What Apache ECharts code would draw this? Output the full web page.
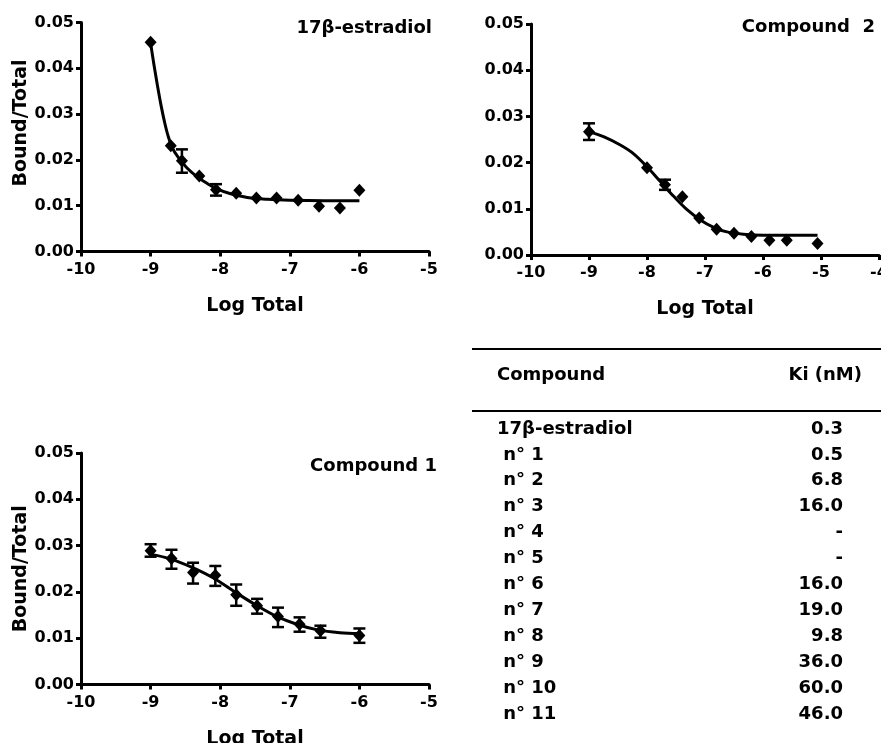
<!DOCTYPE html>
<html>
<head>
<meta charset="utf-8">
<script src="https://cdn.jsdelivr.net/npm/echarts@6/dist/echarts.min.js"></script>
<style>
html,body{margin:0;padding:0;background:#fff;}
#chart{width:881px;height:743px;}
</style>
</head>
<body>
<div id="chart"></div>
<script>
// ---------- Data ----------
// Panel 1: 17β-estradiol
const p1Title = '17β-estradiol';
const p1X = [-9.0, -8.71, -8.55, -8.30, -8.06, -7.77, -7.48, -7.19, -6.88, -6.58, -6.28, -6.0];
const p1Y = [0.0457, 0.0231, 0.0198, 0.0165, 0.0135, 0.0127, 0.0117, 0.0117, 0.0112, 0.0099, 0.0095, 0.0134];
const p1ErrX = [-8.55, -8.06];
const p1ErrLo = [0.0172, 0.0122];
const p1ErrHi = [0.0223, 0.0147];
const p1FitX = [-9.0, -8.95, -8.90, -8.85, -8.80, -8.75, -8.69, -8.60, -8.48, -8.33, -8.18, -8.04, -7.85, -7.61, -7.32, -7.0, -6.5, -6.0];
const p1FitY = [0.0455, 0.0406, 0.0361, 0.0319, 0.0283, 0.0253, 0.0227, 0.0205, 0.0183, 0.0163, 0.0148, 0.0136, 0.0126, 0.0118, 0.0114, 0.0112, 0.0111, 0.0111];

// Panel 2: Compound 2
const p2Title = 'Compound  2';
const p2X = [-9.0, -8.0, -7.69, -7.39, -7.10, -6.80, -6.50, -6.20, -5.89, -5.59, -5.06];
const p2Y = [0.0267, 0.0189, 0.0152, 0.0126, 0.0080, 0.0056, 0.0047, 0.0040, 0.0032, 0.0032, 0.0025];
const p2ErrX = [-9.0, -7.69];
const p2ErrLo = [0.0249, 0.0141];
const p2ErrHi = [0.0285, 0.0163];
const p2FitX = [-9.0, -8.75, -8.46, -8.23, -8.0, -7.77, -7.54, -7.31, -7.08, -6.85, -6.62, -6.34, -5.99, -5.65, -5.06];
const p2FitY = [0.0267, 0.0256, 0.0238, 0.0219, 0.0191, 0.0159, 0.0127, 0.0098, 0.0076, 0.0060, 0.0050, 0.0045, 0.0043, 0.0043, 0.0043];

// Panel 3: Compound 1
const p3Title = 'Compound 1';
const p3X = [-9.0, -8.70, -8.39, -8.07, -7.77, -7.47, -7.17, -6.86, -6.56, -6.0];
const p3Y = [0.0289, 0.0272, 0.0242, 0.0236, 0.0194, 0.0170, 0.0147, 0.0130, 0.0116, 0.0106];
const p3ErrLo = [0.0276, 0.0250, 0.0218, 0.0213, 0.0170, 0.0153, 0.0124, 0.0114, 0.0101, 0.0090];
const p3ErrHi = [0.0303, 0.0291, 0.0263, 0.0256, 0.0216, 0.0185, 0.0166, 0.0145, 0.0127, 0.0121];
const p3FitX = [-9.0, -8.73, -8.42, -8.11, -7.79, -7.48, -7.19, -6.88, -6.60, -6.28, -6.0];
const p3FitY = [0.0281, 0.0272, 0.0254, 0.0231, 0.0200, 0.0171, 0.0147, 0.0129, 0.0118, 0.0112, 0.0110];

// Axes
const yAxisName = 'Bound/Total';
const xAxisName = 'Log Total';

// Table
const tableHeader = ['Compound', 'Ki (nM)'];
const tableCompounds = ['17β-estradiol', ' n° 1', ' n° 2', ' n° 3', ' n° 4', ' n° 5', ' n° 6', ' n° 7', ' n° 8', ' n° 9', ' n° 10', ' n° 11'];
const tableKi = ['0.3', '0.5', '6.8', '16.0', '-', '-', '16.0', '19.0', '9.8', '36.0', '60.0', '46.0'];

// ---------- Chart ----------
const FONT = '"DejaVu Sans", sans-serif';
const zip = (a, b) => a.map((v, i) => [v, b[i]]);
const zip3 = (a, b, c) => a.map((v, i) => [v, b[i], c[i]]);

const grids = [
  {left: 81, top: 22.5, width: 348, height: 229},
  {left: 531, top: 24, width: 348, height: 231},
  {left: 81, top: 453, width: 348, height: 231.5}
];

function xAxisFor(gi, max) {
  return {
    type: 'value', gridIndex: gi, min: -10, max: max, interval: 1,
    name: xAxisName, nameLocation: 'middle', nameGap: 45,
    nameTextStyle: {fontFamily: FONT, fontWeight: 'bold', fontSize: 19, color: '#000'},
    axisLine: {show: true, onZero: false, lineStyle: {color: '#000', width: 3}},
    axisTick: {show: true, length: 5, lineStyle: {color: '#000', width: 3}},
    axisLabel: {fontFamily: FONT, fontWeight: 'bold', fontSize: 16, color: '#000', margin: 10,
      showMinLabel: true, showMaxLabel: true},
    splitLine: {show: false}
  };
}
function yAxisFor(gi, withName, shift) {
  return {
    type: 'value', gridIndex: gi, min: 0, max: 0.05, interval: 0.01,
    name: withName ? yAxisName : '', nameLocation: 'middle', nameGap: 45,
    nameTextStyle: {fontFamily: FONT, fontWeight: 'bold', fontSize: 19, color: '#000',
      padding: [0, 0, 0, shift || 0]},
    axisLine: {show: true, onZero: false, lineStyle: {color: '#000', width: 3}},
    axisTick: {show: true, length: 5, lineStyle: {color: '#000', width: 3}},
    axisLabel: {fontFamily: FONT, fontWeight: 'bold', fontSize: 16, color: '#000', margin: 7,
      formatter: v => v.toFixed(2), showMinLabel: true, showMaxLabel: true},
    splitLine: {show: false}
  };
}

function errRender(params, api) {
  const x = api.value(0), lo = api.value(1), hi = api.value(2);
  const pt = api.coord([x, hi]);
  const pb = api.coord([x, lo]);
  const w = 6;
  const st = {stroke: '#000', lineWidth: 2.5};
  return {
    type: 'group',
    children: [
      {type: 'line', shape: {x1: pt[0], y1: pt[1], x2: pb[0], y2: pb[1]}, style: st},
      {type: 'line', shape: {x1: pt[0] - w, y1: pt[1], x2: pt[0] + w, y2: pt[1]}, style: st},
      {type: 'line', shape: {x1: pb[0] - w, y1: pb[1], x2: pb[0] + w, y2: pb[1]}, style: st}
    ]
  };
}

function panelSeries(gi, fitX, fitY, X, Y, eX, eLo, eHi) {
  return [
    {type: 'line', xAxisIndex: gi, yAxisIndex: gi, data: zip(fitX, fitY), smooth: 0.35,
      showSymbol: false, symbol: 'none',
      lineStyle: {color: '#000', width: 3}, z: 2, silent: true, animation: false},
    {type: 'custom', xAxisIndex: gi, yAxisIndex: gi, data: zip3(eX, eLo, eHi),
      renderItem: errRender, encode: {x: 0, y: [1, 2]}, z: 3, silent: true, animation: false},
    {type: 'scatter', xAxisIndex: gi, yAxisIndex: gi, data: zip(X, Y), symbol: 'diamond',
      symbolSize: [12, 13], itemStyle: {color: '#000', opacity: 1}, z: 4, silent: true, animation: false}
  ];
}

const graphics = [];
// panel titles
[[p1Title, 432, 28], [p2Title, 875, 27], [p3Title, 437, 466]].forEach(t => {
  graphics.push({type: 'text', x: t[1], y: t[2], style: {text: t[0], align: 'right', verticalAlign: 'middle',
    font: 'bold 18px ' + FONT, fill: '#000'}});
});
// table
graphics.push({type: 'line', shape: {x1: 472, y1: 349, x2: 881, y2: 349}, style: {stroke: '#000', lineWidth: 2}});
graphics.push({type: 'line', shape: {x1: 472, y1: 411, x2: 881, y2: 411}, style: {stroke: '#000', lineWidth: 2}});
graphics.push({type: 'text', x: 497, y: 375, style: {text: tableHeader[0], align: 'left', verticalAlign: 'middle', font: 'bold 18px ' + FONT, fill: '#000'}});
graphics.push({type: 'text', x: 862, y: 375, style: {text: tableHeader[1], align: 'right', verticalAlign: 'middle', font: 'bold 18px ' + FONT, fill: '#000'}});
tableCompounds.forEach((name, i) => {
  const y = 429 + i * 25.9;
  graphics.push({type: 'text', x: 497, y: y, style: {text: name, align: 'left', verticalAlign: 'middle', font: 'bold 18px ' + FONT, fill: '#000', whiteSpace: 'pre'}});
  graphics.push({type: 'text', x: 843, y: y, style: {text: tableKi[i], align: 'right', verticalAlign: 'middle', font: 'bold 18px ' + FONT, fill: '#000'}});
});

const chart = echarts.init(document.getElementById('chart'), null, {renderer: 'canvas'});
chart.setOption({
  backgroundColor: '#fff',
  animation: false,
  grid: grids.map(g => Object.assign({outerBoundsMode: 'none', containLabel: false}, g)),
  xAxis: [xAxisFor(0, -5), xAxisFor(1, -4), xAxisFor(2, -5)],
  yAxis: [yAxisFor(0, true, 28), yAxisFor(1, false, 0), yAxisFor(2, true, 0)],
  series: [].concat(
    panelSeries(0, p1FitX, p1FitY, p1X, p1Y, p1ErrX, p1ErrLo, p1ErrHi),
    panelSeries(1, p2FitX, p2FitY, p2X, p2Y, p2ErrX, p2ErrLo, p2ErrHi),
    panelSeries(2, p3FitX, p3FitY, p3X, p3Y, p3X, p3ErrLo, p3ErrHi)
  ),
  graphic: graphics
});
</script>
</body>
</html>
